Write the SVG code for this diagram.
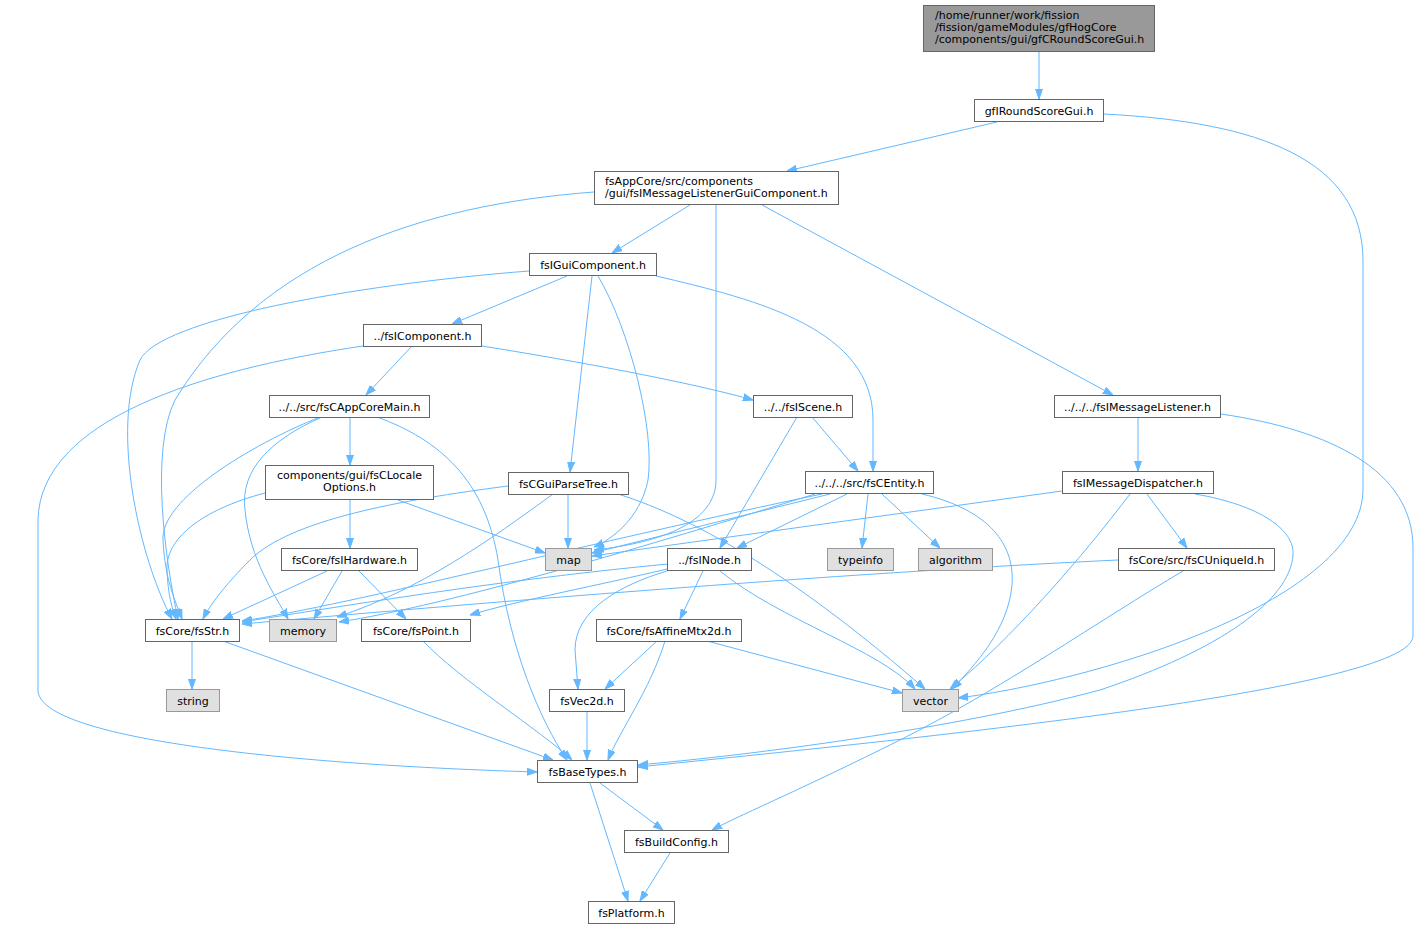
<svg xmlns="http://www.w3.org/2000/svg" width="1419" height="929" viewBox="0 0 1419 929">
<defs>
<style>
.e{fill:none;stroke:#63b8ff;stroke-width:1;marker-end:url(#a)}
.n rect{fill:#ffffff;stroke:#666666;stroke-width:1}
.s rect{fill:#e0e0e0;stroke:#999999;stroke-width:1}
.r rect{fill:#999999;stroke:#666666;stroke-width:1}
text{font-family:"DejaVu Sans","Liberation Sans",sans-serif;font-size:11px;fill:#000000}
.c{text-anchor:middle}
</style>
<marker id="a" markerWidth="10" markerHeight="8" refX="10" refY="4" orient="auto" markerUnits="userSpaceOnUse"><path d="M0,0.5 L10,4 L0,7.5 z" fill="#63b8ff" stroke="#63b8ff" stroke-width="1"/></marker>
</defs>
<rect width="1419" height="929" fill="#ffffff"/>
<g id="connectors">
<path class="e" d="M1039,52 V99"/>
<path class="e" d="M997,122 L787,171"/>
<path class="e" d="M1104,114 C1260,122 1363,160 1363,261 L1363,489 C1363,600 1100,680 958,698"/>
<path class="e" d="M690,205 L612,253"/>
<path class="e" d="M594,192 C420,205 260,260 175,400 C150,450 165,560 178,619"/>
<path class="e" d="M716,205 L716,480 C716,530 640,545 594,550"/>
<path class="e" d="M762,205 L1113,395"/>
<path class="e" d="M567,276 L452,324"/>
<path class="e" d="M529,271 C350,285 160,320 140,360 C110,430 140,560 172,619"/>
<path class="e" d="M592,276 L570,472"/>
<path class="e" d="M598,276 C630,330 655,430 648,480 C640,520 610,540 594,547"/>
<path class="e" d="M656,276 C760,300 873,330 873,420 L873,471"/>
<path class="e" d="M412,346 L366,395"/>
<path class="e" d="M482,346 C600,365 700,385 753,400"/>
<path class="e" d="M363,346 C200,370 40,420 38,520 L38,690 C38,740 300,765 537,772"/>
<path class="e" d="M350,417 V465"/>
<path class="e" d="M320,417 C250,445 160,500 163,540 C165,580 175,600 182,619"/>
<path class="e" d="M322,417 C270,440 240,470 245,510 C250,560 275,595 288,619"/>
<path class="e" d="M377,417 C440,440 485,480 498,560 C510,650 540,720 567,760"/>
<path class="e" d="M350,500 V548"/>
<path class="e" d="M398,500 L545,553"/>
<path class="e" d="M265,493 C200,510 165,540 167,570 C168,595 172,608 176,619"/>
<path class="e" d="M508,486 C400,500 290,520 250,560 C225,585 210,605 203,619"/>
<path class="e" d="M327,571 L223,619"/>
<path class="e" d="M342,571 L314,619"/>
<path class="e" d="M359,571 L406,619"/>
<path class="e" d="M812,417 L858,471"/>
<path class="e" d="M797,417 L720,548"/>
<path class="e" d="M568,494 V548"/>
<path class="e" d="M553,494 C490,540 420,590 337,617"/>
<path class="e" d="M618,494 C700,520 800,580 925,689"/>
<path class="e" d="M830,494 L592,553"/>
<path class="e" d="M822,494 C600,540 350,605 242,621"/>
<path class="e" d="M815,494 C650,545 450,605 339,622"/>
<path class="e" d="M847,494 L737,548"/>
<path class="e" d="M868,494 L862,548"/>
<path class="e" d="M882,494 L940,548"/>
<path class="e" d="M922,494 C990,510 1015,545 1012,585 C1008,630 975,665 952,689"/>
<path class="e" d="M1138,417 V471"/>
<path class="e" d="M1221,414 C1330,430 1413,470 1413,548 L1413,636 C1413,690 900,740 638,767"/>
<path class="e" d="M1062,491 L592,556"/>
<path class="e" d="M1130,494 C1080,560 1010,640 950,689"/>
<path class="e" d="M1147,494 L1187,548"/>
<path class="e" d="M1195,494 C1260,505 1295,530 1293,555 C1290,600 1220,650 1100,690 C950,730 750,755 638,765"/>
<path class="e" d="M1118,560 C800,575 400,610 242,624"/>
<path class="e" d="M1183,571 C1100,620 1000,690 900,740 C800,790 740,815 712,830"/>
<path class="e" d="M668,564 C500,580 350,605 242,622"/>
<path class="e" d="M667,569 C600,585 520,600 470,615"/>
<path class="e" d="M703,571 L680,619"/>
<path class="e" d="M667,571 C620,585 575,610 575,650 L578,689"/>
<path class="e" d="M720,571 C780,620 880,650 915,689"/>
<path class="e" d="M707,641 L902,693"/>
<path class="e" d="M657,641 L605,689"/>
<path class="e" d="M665,641 C650,690 620,730 608,760"/>
<path class="e" d="M587,712 V760"/>
<path class="e" d="M192,641 V689"/>
<path class="e" d="M223,641 L553,760"/>
<path class="e" d="M423,641 C460,680 540,730 572,760"/>
<path class="e" d="M600,783 L663,830"/>
<path class="e" d="M590,783 L628,901"/>
<path class="e" d="M670,853 L640,901"/>
</g>
<g id="n1" class="r"><rect x="923.5" y="5.5" width="231" height="46"/><text x="935" y="19">/home/runner/work/fission</text><text x="935" y="31">/fission/gameModules/gfHogCore</text><text x="935" y="43">/components/gui/gfCRoundScoreGui.h</text></g>
<g id="n2" class="n"><rect x="974.5" y="99.5" width="129" height="22"/><text class="c" x="1039" y="114.5">gfIRoundScoreGui.h</text></g>
<g id="n3" class="n"><rect x="594.5" y="171.5" width="244" height="33"/><text x="605" y="185">fsAppCore/src/components</text><text x="605" y="197">/gui/fsIMessageListenerGuiComponent.h</text></g>
<g id="n4" class="n"><rect x="529.5" y="253.5" width="127" height="22"/><text class="c" x="593" y="268.5">fsIGuiComponent.h</text></g>
<g id="n5" class="n"><rect x="363.5" y="324.5" width="118" height="22"/><text class="c" x="422.5" y="339.5">../fsIComponent.h</text></g>
<g id="n6" class="n"><rect x="269.5" y="395.5" width="160" height="22"/><text class="c" x="349.5" y="410.5">../../src/fsCAppCoreMain.h</text></g>
<g id="n7" class="n"><rect x="753.5" y="395.5" width="99" height="22"/><text class="c" x="803" y="410.5">../../fsIScene.h</text></g>
<g id="n8" class="n"><rect x="805.5" y="471.5" width="128" height="22"/><text class="c" x="869.5" y="486.5">../../../src/fsCEntity.h</text></g>
<g id="n9" class="s"><rect x="827.5" y="548.5" width="66" height="22"/><text class="c" x="860.5" y="563.5">typeinfo</text></g>
<g id="n10" class="s"><rect x="918.5" y="548.5" width="74" height="22"/><text class="c" x="955.5" y="563.5">algorithm</text></g>
<g id="n11" class="n"><rect x="1054.5" y="395.5" width="166" height="22"/><text class="c" x="1137.5" y="410.5">../../../fsIMessageListener.h</text></g>
<g id="n12" class="n"><rect x="1062.5" y="471.5" width="151" height="22"/><text class="c" x="1138" y="486.5">fsIMessageDispatcher.h</text></g>
<g id="n13" class="n"><rect x="1118.5" y="548.5" width="156" height="22"/><text class="c" x="1196.5" y="563.5">fsCore/src/fsCUniqueId.h</text></g>
<g id="n14" class="n"><rect x="265.5" y="465.5" width="168" height="34"/><text class="c" x="349.5" y="479">components/gui/fsCLocale</text><text class="c" x="349.5" y="491">Options.h</text></g>
<g id="n15" class="n"><rect x="508.5" y="472.5" width="120" height="22"/><text class="c" x="568.5" y="487.5">fsCGuiParseTree.h</text></g>
<g id="n16" class="n"><rect x="281.5" y="548.5" width="136" height="22"/><text class="c" x="349.5" y="563.5">fsCore/fsIHardware.h</text></g>
<g id="n17" class="s"><rect x="545.5" y="548.5" width="46" height="22"/><text class="c" x="568.5" y="563.5">map</text></g>
<g id="n18" class="n"><rect x="667.5" y="548.5" width="84" height="22"/><text class="c" x="709.5" y="563.5">../fsINode.h</text></g>
<g id="n19" class="n"><rect x="145.5" y="619.5" width="94" height="22"/><text class="c" x="192.5" y="634.5">fsCore/fsStr.h</text></g>
<g id="n20" class="s"><rect x="269.5" y="619.5" width="67" height="22"/><text class="c" x="303" y="634.5">memory</text></g>
<g id="n21" class="n"><rect x="361.5" y="619.5" width="109" height="22"/><text class="c" x="416" y="634.5">fsCore/fsPoint.h</text></g>
<g id="n22" class="s"><rect x="166.5" y="689.5" width="53" height="22"/><text class="c" x="193" y="704.5">string</text></g>
<g id="n23" class="n"><rect x="596.5" y="619.5" width="145" height="22"/><text class="c" x="669" y="634.5">fsCore/fsAffineMtx2d.h</text></g>
<g id="n24" class="n"><rect x="549.5" y="689.5" width="75" height="22"/><text class="c" x="587" y="704.5">fsVec2d.h</text></g>
<g id="n25" class="s"><rect x="902.5" y="689.5" width="56" height="22"/><text class="c" x="930.5" y="704.5">vector</text></g>
<g id="n26" class="n"><rect x="537.5" y="760.5" width="100" height="22"/><text class="c" x="587.5" y="775.5">fsBaseTypes.h</text></g>
<g id="n27" class="n"><rect x="624.5" y="830.5" width="104" height="22"/><text class="c" x="676.5" y="845.5">fsBuildConfig.h</text></g>
<g id="n28" class="n"><rect x="588.5" y="901.5" width="86" height="22"/><text class="c" x="631.5" y="916.5">fsPlatform.h</text></g>
</svg>
